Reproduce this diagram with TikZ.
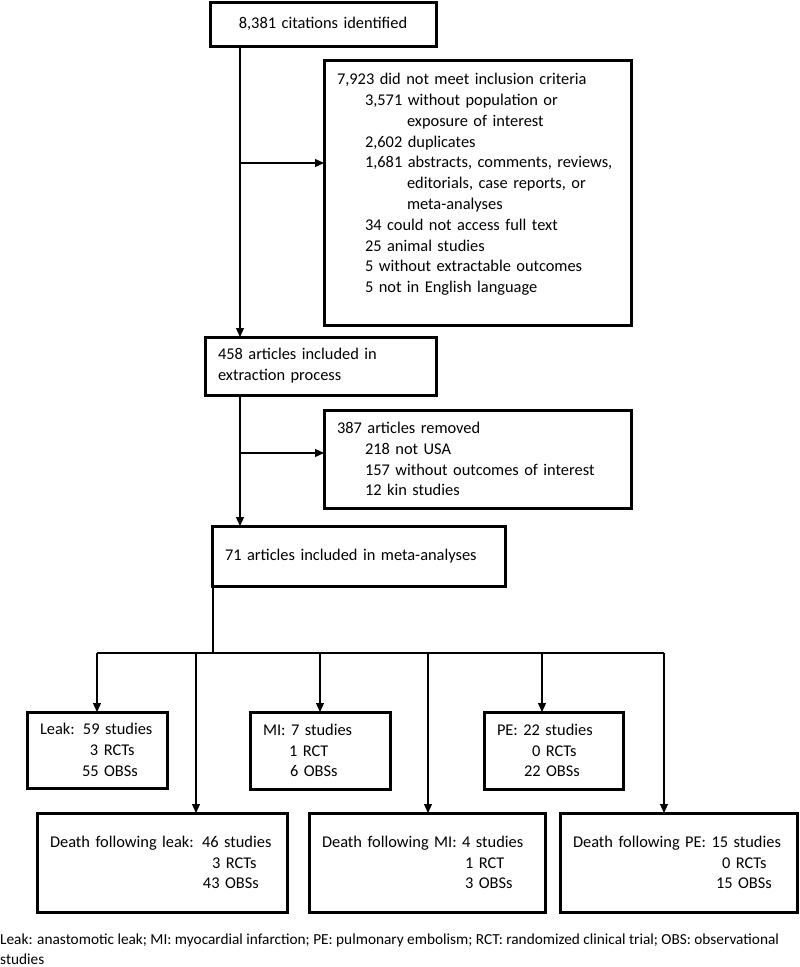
\documentclass[tikz,border=0pt]{standalone}
\usepackage{fontspec}
\setmainfont{Carlito}
\usetikzlibrary{arrows.meta}

\begin{document}
\begin{tikzpicture}[x=1pt, y=-1pt, font=\fontsize{16.4pt}{20.8pt}\selectfont,
  box/.style 2 args={draw, line width=3pt, outer sep=0pt, anchor=north west, inner xsep=13pt, inner ysep=0pt, align=left, text width=#1, minimum height=#2},
  link/.style={line width=1.2pt},
  arr/.style={line width=1.2pt, -{Triangle[length=9pt, width=8pt]}}]

\useasboundingbox (0,0) rectangle (800,967);

% screening
\node[box={200pt}{44pt}, align=center] (cites) at (210,2) {8,381 citations identified};
\node[box={281pt}{265pt}] (excl) at (324,60) {7,923 did not meet inclusion criteria\\
  \hspace*{28pt}3,571 without population or\\
  \hspace*{70pt}exposure of interest\\
  \hspace*{28pt}2,602 duplicates\\
  \hspace*{28pt}1,681 abstracts, comments, reviews,\\
  \hspace*{70pt}editorials, case reports, or\\
  \hspace*{70pt}meta-analyses\\
  \hspace*{28pt}34 could not access full text\\
  \hspace*{28pt}25 animal studies\\
  \hspace*{28pt}5 without extractable outcomes\\
  \hspace*{28pt}5 not in English language\vspace*{16pt}};
\node[box={205pt}{58pt}] (extr) at (205,337) {458 articles included in\\extraction process};
\node[box={281pt}{98pt}] (remv) at (324,410) {387 articles removed\\
  \hspace*{28pt}218 not USA\\
  \hspace*{28pt}157 without outcomes of interest\\
  \hspace*{28pt}12 kin studies};
\node[box={267pt}{60pt}] (meta) at (212,526) {71 articles included in meta-analyses};

% outcomes
\node[box={114pt}{76pt}] (leak) at (27,712) {Leak: 59 studies\\\hspace*{50pt}3 RCTs\\\hspace*{42pt}55 OBSs};
\node[box={114pt}{77pt}] (mi) at (250,712) {MI: 7 studies\\\hspace*{26pt}1 RCT\\\hspace*{27pt}6 OBSs};
\node[box={113pt}{77pt}] (pe) at (484,712) {PE: 22 studies\\\hspace*{35pt}0 RCTs\\\hspace*{27pt}22 OBSs};
\node[box={224pt}{99pt}] (dleak) at (37,813) {\mbox{Death following leak: 46 studies}\\\hspace*{162pt}3 RCTs\\\hspace*{153pt}43 OBSs};
\node[box={210pt}{99pt}] (dmi) at (309,813) {\mbox{Death following MI: 4 studies}\\\hspace*{143pt}1 RCT\\\hspace*{143pt}3 OBSs};
\node[box={211pt}{99pt}] (dpe) at (560,813) {\mbox{Death following PE: 15 studies}\\\hspace*{149pt}0 RCTs\\\hspace*{143pt}15 OBSs};

\node[anchor=north west, inner sep=0pt, align=left, font=\fontsize{15.3pt}{20pt}\selectfont] (note) at (0,934)
  {Leak: anastomotic leak; MI: myocardial infarction; PE: pulmonary embolism; RCT: randomized clinical trial; OBS: observational\\studies};

% connectors
\coordinate (t1) at (240,163);
\coordinate (t2) at (240,453);
\draw[arr] (cites.south -| t1) -- (extr.north -| t1);
\draw[arr] (t1) -- (t1 -| excl.west);
\draw[arr] (extr.south -| t2) -- (meta.north -| t2);
\draw[arr] (t2) -- (t2 -| remv.west);

\coordinate (bus) at (213,653);
\draw[link] (meta.south -| bus) -- (bus);
\coordinate (d1) at (97,653);  \coordinate (d2) at (196,653);
\coordinate (d3) at (320,653); \coordinate (d4) at (428,653);
\coordinate (d5) at (542,653); \coordinate (d6) at (664,653);
\draw[link] (d1) -- (d6);
\foreach \d/\n in {d1/leak, d2/dleak, d3/mi, d4/dmi, d5/pe, d6/dpe}
  \draw[arr] (\d) -- (\d |- \n.north);

\end{tikzpicture}
\end{document}
